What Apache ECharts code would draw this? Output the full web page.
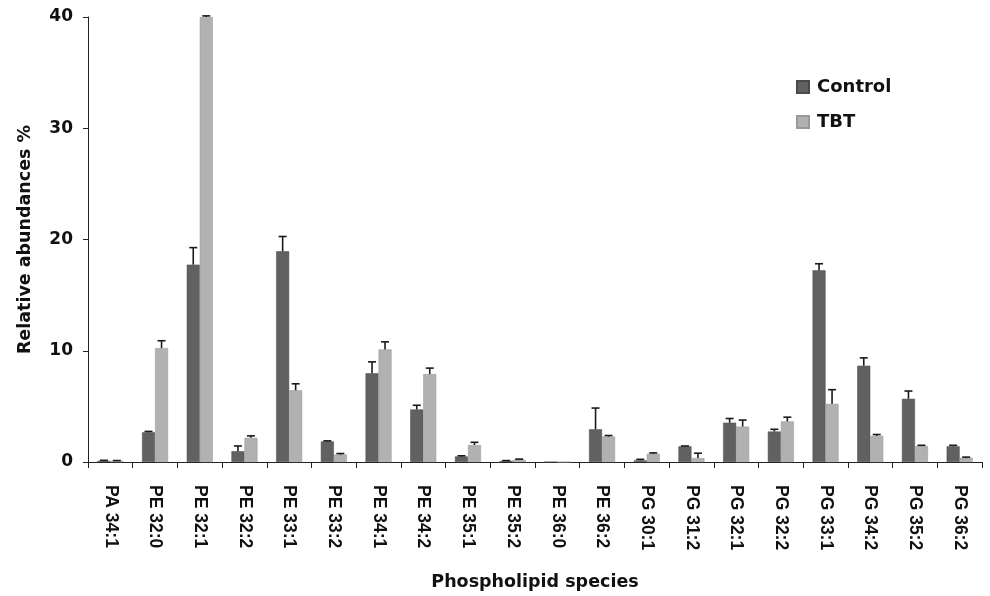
<!DOCTYPE html>
<html>
<head>
<meta charset="utf-8">
<script src="https://cdn.jsdelivr.net/npm/echarts@6/dist/echarts.min.js"></script>
<style>html,body{margin:0;padding:0;background:#fff}#c{width:990px;height:596px}</style>
</head>
<body>
<div id="c"></div>
<script>
const categories = ["PA 34:1","PE 32:0","PE 32:1","PE 32:2","PE 33:1","PE 33:2","PE 34:1","PE 34:2","PE 35:1","PE 35:2","PE 36:0","PE 36:2","PG 30:1","PG 31:2","PG 32:1","PG 32:2","PG 33:1","PG 34:2","PG 35:2","PG 36:2"];
const controlValues = [0.1, 2.67, 17.74, 0.97, 18.94, 1.85, 7.97, 4.72, 0.5, 0.1, 0, 2.94, 0.15, 1.41, 3.53, 2.74, 17.23, 8.65, 5.68, 1.41];
const controlErrors = [0.05, 0.08, 1.53, 0.47, 1.33, 0.05, 1.03, 0.38, 0.06, 0.03, 0, 1.91, 0.09, 0.03, 0.38, 0.2, 0.59, 0.71, 0.7, 0.09];
const tbtValues = [0.1, 10.24, 40, 2.17, 6.44, 0.67, 10.12, 7.9, 1.53, 0.2, 0, 2.29, 0.74, 0.35, 3.18, 3.65, 5.23, 2.35, 1.44, 0.38];
const tbtErrors = [0.03, 0.66, 0.1, 0.18, 0.59, 0.09, 0.68, 0.54, 0.24, 0.06, 0, 0.09, 0.08, 0.44, 0.59, 0.38, 1.27, 0.12, 0.06, 0.06];
const yTicks = [0, 10, 20, 30, 40];

const FONT = '"DejaVu Sans", sans-serif';
const LFONT = '"Liberation Sans", Arial, sans-serif';
const BAR_W = 13;

function errSeries(name, vals, errs, offsetSign) {
  return {
    type: 'custom',
    name: name + ' err',
    clip: false,
    z: 5,
    data: vals.map((v, i) => [i, v, v + errs[i]]),
    renderItem: function (params, api) {
      const i = api.value(0);
      const base = api.coord([i, api.value(1)]);
      const top = api.coord([i, api.value(2)]);
      const x = base[0] + offsetSign * BAR_W / 2;
      const cap = 4;
      if (api.value(2) <= 0) return null;
      return {
        type: 'group',
        children: [
          { type: 'line', shape: { x1: x, y1: base[1], x2: x, y2: top[1] }, style: { stroke: '#1a1a1a', lineWidth: 1.6 } },
          { type: 'line', shape: { x1: x - cap, y1: top[1], x2: x + cap, y2: top[1] }, style: { stroke: '#1a1a1a', lineWidth: 1.6 } }
        ]
      };
    }
  };
}

const chart = echarts.init(document.getElementById('c'), null, { renderer: 'canvas' });
chart.setOption({
  animation: false,
  backgroundColor: '#fff',
  textStyle: { fontFamily: FONT },
  grid: { left: 88, right: 8, top: 17, bottom: 126, containLabel: false },
  legend: {
    data: ['Control', 'TBT'],
    orient: 'vertical',
    left: 791,
    top: 73,
    itemWidth: 12,
    itemHeight: 12,
    itemGap: 17,
    icon: 'rect',
    textStyle: { fontFamily: FONT, fontWeight: 'bold', fontSize: 18, color: '#111', padding: [0, 0, 0, 3] }
  },
  xAxis: {
    type: 'category',
    data: categories,
    boundaryGap: true,
    name: 'Phospholipid species',
    nameLocation: 'middle',
    nameGap: 111,
    nameTextStyle: { fontFamily: FONT, fontWeight: 'bold', fontSize: 17.5, color: '#111' },
    axisLine: { lineStyle: { color: '#222', width: 1 } },
    axisTick: { show: true, interval: 0, length: 6, lineStyle: { color: '#222' } },
    axisLabel: { interval: 0, rotate: -90, margin: 23, fontFamily: LFONT, fontWeight: 'bold', fontSize: 17.5, color: '#111' },
    splitLine: { show: false }
  },
  yAxis: {
    type: 'value',
    min: 0,
    max: 40,
    interval: 10,
    name: 'Relative abundances %',
    nameLocation: 'middle',
    nameGap: 54,
    nameRotate: 90,
    nameTextStyle: { fontFamily: FONT, fontWeight: 'bold', fontSize: 17.5, color: '#111' },
    axisLine: { show: true, lineStyle: { color: '#222', width: 1 } },
    axisTick: { show: true, length: 5, lineStyle: { color: '#222' } },
    axisLabel: { margin: 15, fontFamily: FONT, fontWeight: 'bold', fontSize: 17, color: '#111', formatter: v => yTicks.includes(v) ? String(v) : '' },
    splitLine: { show: false }
  },
  series: [
    { type: 'bar', name: 'Control', data: controlValues, barWidth: BAR_W, barGap: '0%',
      itemStyle: { color: '#616161', borderColor: '#4a4a4a', borderWidth: 0.5 } },
    { type: 'bar', name: 'TBT', data: tbtValues, barWidth: BAR_W, barGap: '0%',
      itemStyle: { color: '#b1b1b1', borderColor: '#999', borderWidth: 0.5 } },
    errSeries('Control', controlValues, controlErrors, -1),
    errSeries('TBT', tbtValues, tbtErrors, 1)
  ]
});
</script>
</body>
</html>
